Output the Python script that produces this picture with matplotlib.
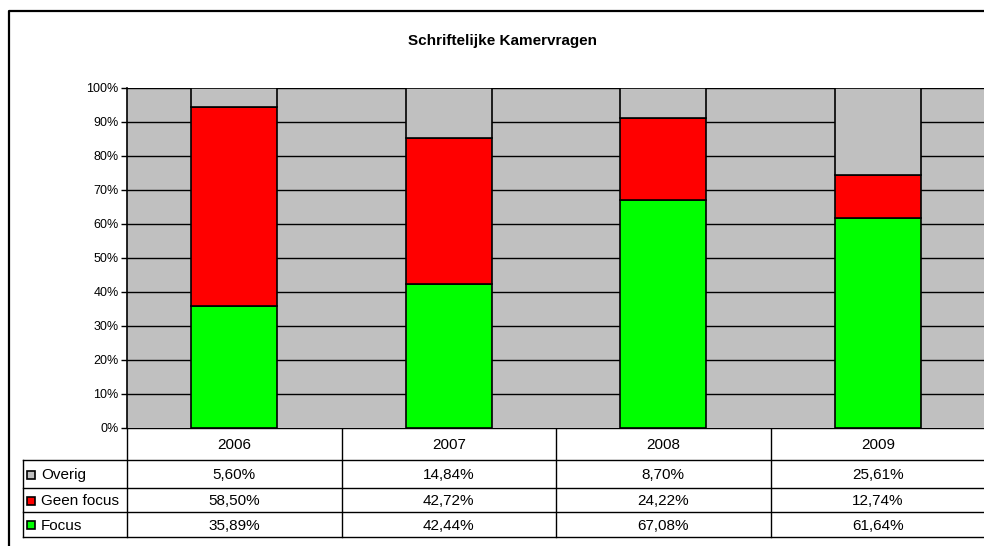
import numpy as np
import matplotlib
matplotlib.use("Agg")
import matplotlib.pyplot as plt
from matplotlib.patches import Rectangle

plt.rcParams['font.family'] = ['Liberation Sans', 'DejaVu Sans']

# data (percent)
years = ['2006', '2007', '2008', '2009']
series = ['Overig', 'Geen focus', 'Focus']
overig = [5.60, 14.84, 8.70, 25.61]
geen_focus = [58.50, 42.72, 24.22, 12.74]
focus = [35.89, 42.44, 67.08, 61.64]
colors = {'Overig': '#C0C0C0', 'Geen focus': '#FF0000', 'Focus': '#00FF00'}

W, H = 984, 546
fig = plt.figure(figsize=(W / 100, H / 100), dpi=100)

# overlay axes in pixel coords for frame / table
ov = fig.add_axes([0, 0, 1, 1])
ov.set_xlim(0, W)
ov.set_ylim(H, 0)
ov.axis('off')

# outer chart frame (cropped on right/bottom)
ov.plot([9, 9, W + 5], [H + 5, 11, 11], color='black', lw=1.6, solid_capstyle='projecting')
ov.text(502, 41, 'Schriftelijke Kamervragen', ha='center', va='center',
        fontsize=11, fontweight='bold')

# plot area
px_left, px_top, px_bottom, px_right = 127, 88, 428, 985
ax = fig.add_axes([px_left / W, (H - px_bottom) / H, (px_right - px_left) / W,
                   (px_bottom - px_top) / H])
ax.set_facecolor('#C0C0C0')
x = np.arange(len(years))
ax.set_xlim(-0.5, len(years) - 0.5)
ax.set_ylim(0, 100)
for v in range(10, 101, 10):
    ax.axhline(v, color='black', lw=1.0, zorder=1)

bottom = np.zeros(len(years))
for name, vals in [('Focus', focus), ('Geen focus', geen_focus), ('Overig', overig)]:
    ax.bar(x, vals, width=0.4, bottom=bottom, color=colors[name],
           edgecolor='black', linewidth=1.2, zorder=3)
    bottom += np.array(vals)

ax.set_yticks(range(0, 101, 10))
ax.set_yticklabels([f'{v}%' for v in range(0, 101, 10)], fontsize=9)
ax.tick_params(axis='y', length=4, width=1, direction='out', pad=2)
ax.set_xticks([])
for s in ['top', 'right', 'bottom']:
    ax.spines[s].set_visible(False)
ax.spines['left'].set_linewidth(1.2)

# data table below the plot
col_edges_px = [ax.transData.transform((i - 0.5, 0))[0] for i in range(len(years) + 1)]
col_centers_px = [ax.transData.transform((i, 0))[0] for i in range(len(years))]
row_lines = [428, 460, 488, 512, 537]
label_left = 23
lw_t = 1.0
# header row
ov.plot([px_left, W + 5], [row_lines[0]] * 2, color='black', lw=lw_t)
for ry in row_lines[1:]:
    ov.plot([label_left, W + 5], [ry] * 2, color='black', lw=lw_t)
for cx in col_edges_px:
    ov.plot([cx, cx], [row_lines[0], row_lines[-1]], color='black', lw=lw_t)
ov.plot([label_left, label_left], [row_lines[1], row_lines[-1]], color='black', lw=lw_t)

for i, yr in enumerate(years):
    ov.text(col_centers_px[i], (row_lines[0] + row_lines[1]) / 2 + 1, yr,
            ha='center', va='center', fontsize=11)

table_rows = [('Overig', overig), ('Geen focus', geen_focus), ('Focus', focus)]
for r, (name, vals) in enumerate(table_rows):
    yc = (row_lines[r + 1] + row_lines[r + 2]) / 2 + 1
    ov.add_patch(Rectangle((26.5, yc - 4.5), 8, 8, facecolor=colors[name],
                           edgecolor='black', lw=1.2))
    ov.text(41, yc, name, ha='left', va='center', fontsize=11)
    for i, v in enumerate(vals):
        ov.text(col_centers_px[i], yc, f'{v:.2f}%'.replace('.', ','),
                ha='center', va='center', fontsize=11)

fig.savefig('out.png', dpi=100)
